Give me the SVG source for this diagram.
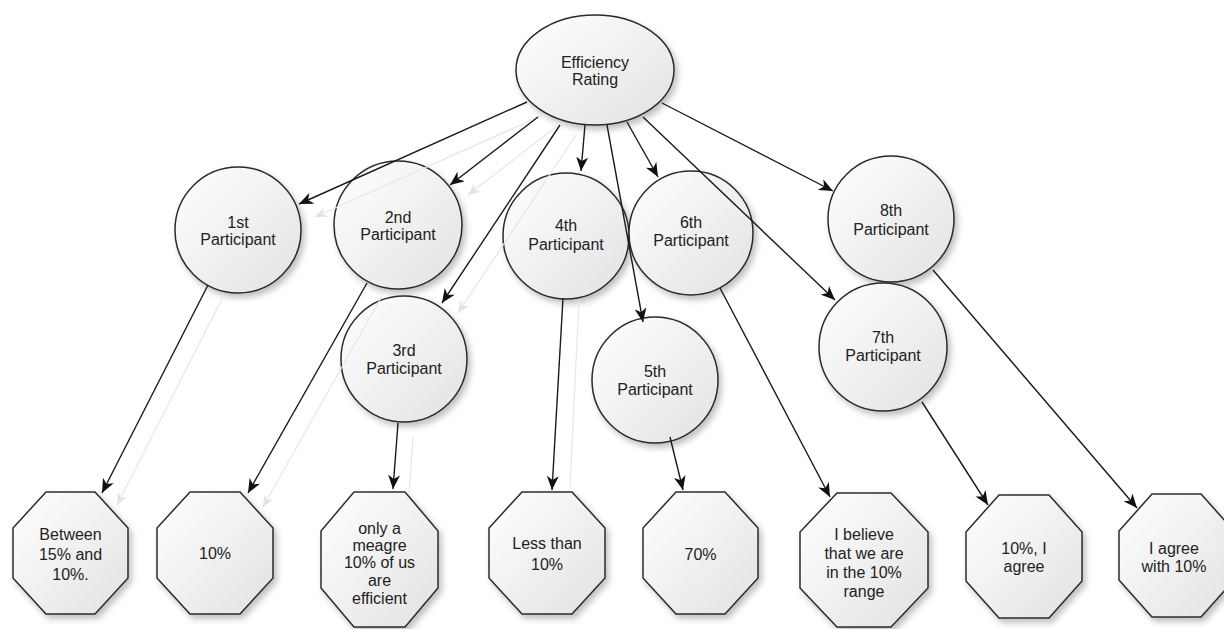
<svg xmlns="http://www.w3.org/2000/svg" width="1224" height="629" viewBox="0 0 1224 629">
<style>
.node{fill:url(#g);stroke:#2b2b2b;stroke-width:1.5;filter:url(#sh)}
.t{font-family:"Liberation Sans",Arial,sans-serif;font-size:16px;fill:#222;text-anchor:middle}
.c{stroke:#1a1a1a;stroke-width:1.4;fill:none;marker-end:url(#ah)}
.gh{stroke:#e6e6e6;stroke-width:1.2;fill:none}
.gha{stroke:#e6e6e6;stroke-width:1.2;fill:none;marker-end:url(#gah)}
</style>
<defs>
<linearGradient id="g" x1="0" y1="0" x2="1" y2="1">
<stop offset="0" stop-color="#ffffff"/>
<stop offset="1" stop-color="#e2e2e2"/>
</linearGradient>
<filter id="sh" x="-20%" y="-20%" width="150%" height="150%">
<feDropShadow dx="3" dy="4" stdDeviation="3" flood-color="#000" flood-opacity="0.25"/>
</filter>
<marker id="ah" viewBox="0 0 14 12" refX="14" refY="6" markerWidth="14" markerHeight="12" markerUnits="userSpaceOnUse" orient="auto">
<path d="M0,0 L14,6 L0,12 L4,6 z" fill="#111"/>
</marker>
<marker id="gah" viewBox="0 0 14 12" refX="14" refY="6" markerWidth="12" markerHeight="10" markerUnits="userSpaceOnUse" orient="auto">
<path d="M0,0 L14,6 L0,12 L4,6 z" fill="#e2e2e2"/>
</marker>
</defs>
<rect width="1224" height="629" fill="#fff"/>

<g id="efficiency-rating">
<ellipse class="node" cx="595" cy="70" rx="79" ry="55"/>
<text class="t" x="595" y="68">Efficiency</text>
<text class="t" x="595" y="85">Rating</text>
</g>

<g id="p1"><circle class="node" cx="238" cy="230" r="63"/>
<text class="t" x="238" y="228">1st</text><text class="t" x="238" y="245">Participant</text></g>
<g id="p2"><circle class="node" cx="398" cy="225" r="64"/>
<text class="t" x="398" y="223">2nd</text><text class="t" x="398" y="240">Participant</text></g>
<g id="p3"><circle class="node" cx="404" cy="359" r="63"/>
<text class="t" x="404" y="356">3rd</text><text class="t" x="404" y="374">Participant</text></g>
<g id="p4"><circle class="node" cx="566" cy="236" r="63"/>
<text class="t" x="566" y="231">4th</text><text class="t" x="566" y="250">Participant</text></g>
<g id="p6"><circle class="node" cx="691" cy="233" r="62"/>
<text class="t" x="691" y="228">6th</text><text class="t" x="691" y="246">Participant</text></g>
<g id="p5"><circle class="node" cx="655" cy="380" r="63"/>
<text class="t" x="655" y="377">5th</text><text class="t" x="655" y="395">Participant</text></g>
<g id="p8"><circle class="node" cx="891" cy="219" r="63"/>
<text class="t" x="891" y="216">8th</text><text class="t" x="891" y="235">Participant</text></g>
<g id="p7"><circle class="node" cx="883" cy="347" r="64"/>
<text class="t" x="883" y="343">7th</text><text class="t" x="883" y="361">Participant</text></g>

<g id="a1"><polygon class="node" points="46,492 95,492 128,528 128,578 95,614 46,614 13,578 13,528"/>
<text class="t" x="70.5" y="540">Between</text><text class="t" x="70.5" y="560">15% and</text><text class="t" x="70.5" y="580">10%.</text></g>
<g id="a2"><polygon class="node" points="190,492 240,492 273,528 273,578 240,614 190,614 157,578 157,528"/>
<text class="t" x="215" y="559">10%</text></g>
<g id="a3"><polygon class="node" points="354,492 405,492 438,531 438,588 405,627 354,627 321,588 321,531"/>
<text class="t" x="379.5" y="534">only a</text><text class="t" x="379.5" y="551">meagre</text><text class="t" x="379.5" y="568">10% of us</text><text class="t" x="379.5" y="586">are</text><text class="t" x="379.5" y="604">efficient</text></g>
<g id="a4"><polygon class="node" points="522,492 572,492 605,528 605,578 572,614 522,614 489,578 489,528"/>
<text class="t" x="547" y="549">Less than</text><text class="t" x="547" y="570">10%</text></g>
<g id="a5"><polygon class="node" points="676,492 725,492 758,528 758,578 725,614 676,614 643,578 643,528"/>
<text class="t" x="700.5" y="560">70%</text></g>
<g id="a6"><polygon class="node" points="837,493 891,493 928,532 928,588 891,627 837,627 800,588 800,532"/>
<text class="t" x="864" y="540">I believe</text><text class="t" x="864" y="559">that we are</text><text class="t" x="864" y="578">in the 10%</text><text class="t" x="864" y="597">range</text></g>
<g id="a7"><polygon class="node" points="999,495 1049,495 1082,532 1082,581 1049,618 999,618 966,581 966,532"/>
<text class="t" x="1024" y="554">10%, I</text><text class="t" x="1024" y="572">agree</text></g>
<g id="a8"><polygon class="node" points="1152,494 1201,494 1234,531 1234,580 1201,617 1152,617 1119,580 1119,531"/>
<text class="t" x="1174" y="554">I agree</text><text class="t" x="1174" y="572">with 10%</text></g>

<g id="connectors">
<line class="gha" x1="543" y1="115" x2="315" y2="217"/>
<line class="gha" x1="556" y1="127" x2="468" y2="195"/>
<line class="gha" x1="576" y1="135" x2="458" y2="313"/>
<line class="gha" x1="223" y1="297" x2="117" y2="505"/>
<line class="gha" x1="382" y1="296" x2="263" y2="507"/>
<line class="gh" x1="413" y1="437" x2="409" y2="493"/>
<line class="gh" x1="579" y1="300" x2="570" y2="487"/>

<line class="c" x1="527" y1="102" x2="299" y2="204"/>
<line class="c" x1="538" y1="117" x2="450" y2="185"/>
<line class="c" x1="560" y1="125" x2="442" y2="303"/>
<line class="c" x1="585" y1="125" x2="581" y2="171"/>
<line class="c" x1="607" y1="125" x2="643" y2="322"/>
<line class="c" x1="627" y1="122" x2="658" y2="177"/>
<line class="c" x1="643" y1="117" x2="835" y2="300"/>
<line class="c" x1="662" y1="103" x2="833" y2="191"/>

<line class="c" x1="208" y1="285" x2="102" y2="493"/>
<line class="c" x1="367" y1="283" x2="248" y2="493"/>
<line class="c" x1="398" y1="423" x2="393" y2="489"/>
<line class="c" x1="563" y1="298" x2="552" y2="490"/>
<line class="c" x1="670" y1="437" x2="683" y2="490"/>
<line class="c" x1="720" y1="288" x2="830" y2="497"/>
<line class="c" x1="922" y1="402" x2="988" y2="505"/>
<line class="c" x1="933" y1="270" x2="1137" y2="508"/>
</g>
</svg>
